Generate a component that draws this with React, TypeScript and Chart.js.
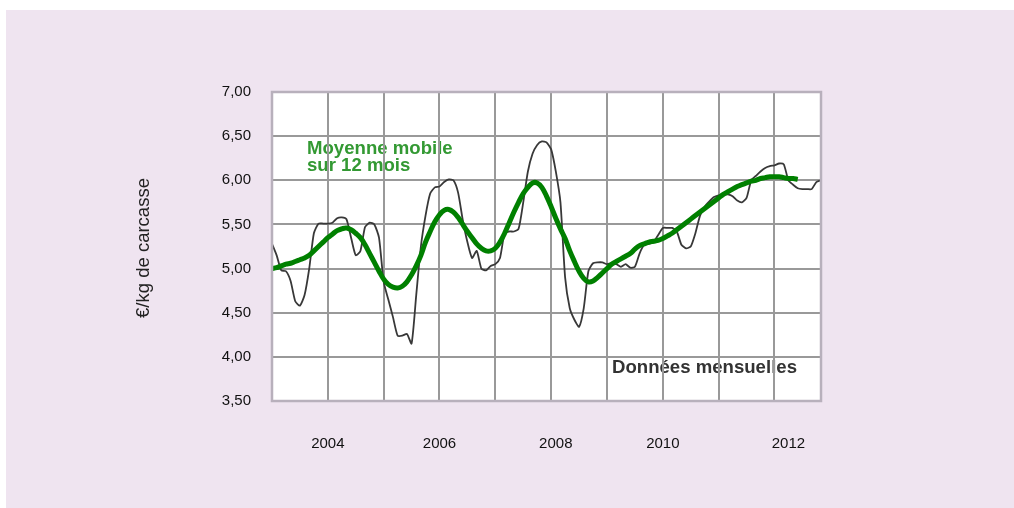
import React, { useEffect, useRef } from 'react';
import { Chart, registerables } from 'chart.js';

Chart.register(...registerables);

const startYear = 2003;
const monthCount = 119;
const categories: string[] = Array.from(
  { length: monthCount },
  (_, i) => `${startYear + Math.floor(i / 12)}-${String((i % 12) + 1).padStart(2, '0')}`
);

// Monthly data (€/kg de carcasse)
const monthlyPrice = [
  5.28, 5.15, 4.98, 4.97, 4.86, 4.63, 4.58, 4.7, 5.0, 5.4,
  5.51, 5.51, 5.51, 5.52, 5.57, 5.58, 5.56, 5.35, 5.15, 5.2,
  5.47, 5.52, 5.5, 5.35, 4.85, 4.65, 4.45, 4.24, 4.24, 4.26,
  4.15, 4.7, 5.25, 5.6, 5.85, 5.92, 5.93, 5.98, 6.01, 6.0,
  5.86, 5.55, 5.3, 5.12, 5.2, 5.0, 4.98, 5.03, 5.05, 5.12,
  5.4, 5.42, 5.42, 5.45, 5.75, 6.1, 6.3, 6.4, 6.44, 6.43,
  6.35, 6.1, 5.75, 4.9, 4.55, 4.42, 4.34, 4.55, 4.97, 5.06,
  5.07, 5.07, 5.05, 5.06, 5.05, 5.02, 5.05, 5.01, 5.02, 5.17,
  5.27, 5.28, 5.3, 5.38, 5.46, 5.46, 5.46, 5.42, 5.27, 5.23,
  5.25, 5.4, 5.6, 5.7, 5.76, 5.81, 5.83, 5.84, 5.84, 5.82,
  5.77, 5.75, 5.8, 6.0, 6.05, 6.1, 6.14, 6.16, 6.17, 6.19,
  6.18, 6.0, 5.95, 5.91, 5.9, 5.9, 5.9, 5.98, 6.0,
];

// 12-month moving average
const movingAverage = [
  5.0, 5.01, 5.03, 5.05, 5.06, 5.08, 5.1, 5.12, 5.15, 5.2,
  5.25, 5.3, 5.35, 5.39, 5.43, 5.45, 5.46, 5.44, 5.4, 5.35,
  5.27, 5.17, 5.07, 4.97, 4.88, 4.82, 4.79, 4.78, 4.8, 4.85,
  4.93, 5.03, 5.15, 5.3, 5.42, 5.53, 5.61, 5.66, 5.67, 5.64,
  5.58, 5.5, 5.42, 5.35, 5.28, 5.23, 5.2, 5.2, 5.23, 5.3,
  5.4, 5.52, 5.64, 5.75, 5.85, 5.92, 5.97, 5.97, 5.92, 5.82,
  5.7, 5.57, 5.45, 5.34, 5.2, 5.08, 4.97, 4.89, 4.85, 4.86,
  4.9, 4.95, 5.0, 5.05, 5.08, 5.11, 5.14, 5.17, 5.22, 5.26,
  5.28, 5.3, 5.31, 5.32, 5.34, 5.37, 5.4, 5.44, 5.48, 5.52,
  5.56, 5.6, 5.64, 5.68, 5.72, 5.76, 5.8, 5.84, 5.87, 5.9,
  5.93, 5.95, 5.97, 5.99, 6.0, 6.02, 6.03, 6.04, 6.04, 6.04,
  6.03, 6.02, 6.02, 6.01,
];

const xTickMonths = ['2004-01', '2006-01', '2008-02', '2010-01', '2012-04'];
const xTickLabels = ['2004', '2006', '2008', '2010', '2012'];
const yTicks = [3.5, 4.0, 4.5, 5.0, 5.5, 6.0, 6.5, 7.0];

const yTitle = '€/kg de carcasse';
const avgNoteLines = ['Moyenne mobile', 'sur 12 mois'];
const monthlyNote = 'Données mensuelles';

const W = 1014;
const H = 508;
const FONT = '"Liberation Sans", Arial, sans-serif';

const backgroundPlugin = {
  id: 'panelBackground',
  beforeDraw(chart: any) {
    const { ctx, chartArea } = chart;
    ctx.save();
    ctx.fillStyle = '#efe4f0';
    ctx.fillRect(6, 10, W - 6, H - 10);
    ctx.fillStyle = '#ffffff';
    ctx.fillRect(chartArea.left, chartArea.top, chartArea.right - chartArea.left, chartArea.bottom - chartArea.top);

    // notes (drawn under grid lines)
    ctx.font = `bold 18.6px ${FONT}`;
    ctx.textBaseline = 'alphabetic';
    ctx.textAlign = 'left';
    ctx.fillStyle = '#339933';
    ctx.fillText(avgNoteLines[0], 307, 154);
    ctx.fillText(avgNoteLines[1], 307, 171);
    ctx.fillStyle = '#333333';
    ctx.fillText(monthlyNote, 612, 373);

    // y axis title
    ctx.translate(144, 248);
    ctx.rotate(-Math.PI / 2);
    ctx.font = `18.5px ${FONT}`;
    ctx.fillStyle = '#222222';
    ctx.textAlign = 'center';
    ctx.textBaseline = 'middle';
    ctx.fillText(yTitle, 0, 0);
    ctx.restore();
  },
  afterDraw(chart: any) {
    const { ctx, chartArea } = chart;
    ctx.save();
    ctx.strokeStyle = '#b8b0bc';
    ctx.lineWidth = 2.5;
    ctx.strokeRect(chartArea.left, chartArea.top, chartArea.right - chartArea.left, chartArea.bottom - chartArea.top);
    ctx.restore();
  },
};

export default function App() {
  const canvasRef = useRef<HTMLCanvasElement | null>(null);

  useEffect(() => {
    document.body.style.margin = '0';
    const canvas = canvasRef.current;
    if (!canvas) return;
    const chart = new Chart(canvas, {
      type: 'line',
      data: {
        labels: categories,
        datasets: [
          {
            label: 'Moyenne mobile sur 12 mois',
            data: movingAverage,
            borderColor: '#008000',
            borderWidth: 5,
            pointRadius: 0,
            tension: 0.4,
            fill: false,
          },
          {
            label: 'Données mensuelles',
            data: monthlyPrice,
            borderColor: '#383838',
            borderWidth: 1.8,
            pointRadius: 0,
            tension: 0.2,
            fill: false,
          },
        ],
      },
      options: {
        responsive: false,
        animation: false,
        layout: { padding: { left: 0, top: 92, right: 193, bottom: 0 } },
        plugins: {
          legend: { display: false },
          tooltip: { enabled: false },
        },
        scales: {
          x: {
            type: 'category',
            offset: false,
            afterFit(scale: any) {
              scale.height = 107;
            },
            border: { display: false },
            grid: {
              drawTicks: false,
              lineWidth: 2,
              color: (c: any) => (c.index % 12 === 0 ? '#999999' : 'rgba(0,0,0,0)'),
            },
            ticks: {
              autoSkip: false,
              maxRotation: 0,
              minRotation: 0,
              padding: 34,
              color: '#111111',
              font: { family: FONT, size: 15 },
              callback: (_v: any, index: number) => {
                const k = xTickMonths.indexOf(categories[index]);
                return k >= 0 ? xTickLabels[k] : '';
              },
            },
          },
          y: {
            type: 'linear',
            min: 3.5,
            max: 7,
            afterFit(scale: any) {
              scale.width = 272;
            },
            afterBuildTicks(scale: any) {
              scale.ticks = yTicks.map((v) => ({ value: v }));
            },
            border: { display: false },
            grid: { drawTicks: false, lineWidth: 2, color: '#999999' },
            ticks: {
              padding: 21,
              color: '#111111',
              font: { family: FONT, size: 15 },
              callback: (v: any) => Number(v).toFixed(2).replace('.', ','),
            },
          },
        },
      },
      plugins: [backgroundPlugin],
    });
    return () => chart.destroy();
  }, []);

  return (
    <div style={{ width: W, height: H }}>
      <canvas ref={canvasRef} width={W} height={H} style={{ display: 'block', width: W, height: H }} />
    </div>
  );
}
